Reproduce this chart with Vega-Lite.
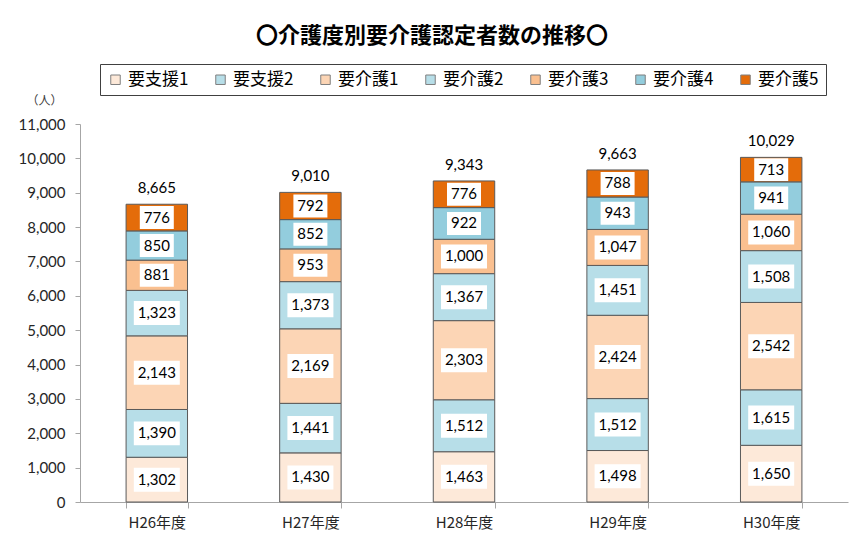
{
  "$schema": "https://vega.github.io/schema/vega-lite/v6.json",
  "width": 768,
  "height": 378,
  "autosize": "none",
  "padding": {"left": 80, "top": 124, "right": 6, "bottom": 38},
  "background": "white",
  "title": {
    "text": "〇介護度別要介護認定者数の推移〇",
    "font": "Noto Sans CJK JP",
    "fontSize": 22,
    "fontWeight": "bold",
    "color": "#000000",
    "anchor": "middle",
    "dx": -32,
    "offset": 16
  },
  "config": {
    "view": {"stroke": null},
    "font": "Lato",
    "axisY": {"labelOverlap": false}
  },
  "data": {
    "values": [
      {"year": "H26年度", "level": "要支援1", "value": 1302},
      {"year": "H26年度", "level": "要支援2", "value": 1390},
      {"year": "H26年度", "level": "要介護1", "value": 2143},
      {"year": "H26年度", "level": "要介護2", "value": 1323},
      {"year": "H26年度", "level": "要介護3", "value": 881},
      {"year": "H26年度", "level": "要介護4", "value": 850},
      {"year": "H26年度", "level": "要介護5", "value": 776},
      {"year": "H27年度", "level": "要支援1", "value": 1430},
      {"year": "H27年度", "level": "要支援2", "value": 1441},
      {"year": "H27年度", "level": "要介護1", "value": 2169},
      {"year": "H27年度", "level": "要介護2", "value": 1373},
      {"year": "H27年度", "level": "要介護3", "value": 953},
      {"year": "H27年度", "level": "要介護4", "value": 852},
      {"year": "H27年度", "level": "要介護5", "value": 792},
      {"year": "H28年度", "level": "要支援1", "value": 1463},
      {"year": "H28年度", "level": "要支援2", "value": 1512},
      {"year": "H28年度", "level": "要介護1", "value": 2303},
      {"year": "H28年度", "level": "要介護2", "value": 1367},
      {"year": "H28年度", "level": "要介護3", "value": 1000},
      {"year": "H28年度", "level": "要介護4", "value": 922},
      {"year": "H28年度", "level": "要介護5", "value": 776},
      {"year": "H29年度", "level": "要支援1", "value": 1498},
      {"year": "H29年度", "level": "要支援2", "value": 1512},
      {"year": "H29年度", "level": "要介護1", "value": 2424},
      {"year": "H29年度", "level": "要介護2", "value": 1451},
      {"year": "H29年度", "level": "要介護3", "value": 1047},
      {"year": "H29年度", "level": "要介護4", "value": 943},
      {"year": "H29年度", "level": "要介護5", "value": 788},
      {"year": "H30年度", "level": "要支援1", "value": 1650},
      {"year": "H30年度", "level": "要支援2", "value": 1615},
      {"year": "H30年度", "level": "要介護1", "value": 2542},
      {"year": "H30年度", "level": "要介護2", "value": 1508},
      {"year": "H30年度", "level": "要介護3", "value": 1060},
      {"year": "H30年度", "level": "要介護4", "value": 941},
      {"year": "H30年度", "level": "要介護5", "value": 713}
    ]
  },
  "transform": [
    {"calculate": "indexof(['要支援1','要支援2','要介護1','要介護2','要介護3','要介護4','要介護5'], datum.level)", "as": "k"},
    {"stack": "value", "groupby": ["year"], "sort": [{"field": "k", "order": "ascending"}], "as": ["ypos", "yend"]}
  ],
  "encoding": {
    "x": {
      "field": "year",
      "type": "nominal",
      "scale": {"paddingInner": 0.6, "paddingOuter": 0.3},
      "axis": {
        "title": null,
        "labelAngle": 0,
        "labelFont": "Noto Sans CJK JP",
        "labelFontSize": 15,
        "labelColor": "#262626",
        "labelPadding": 7,
        "domainColor": "#a6a6a6",
        "tickColor": "#a6a6a6",
        "tickBand": "extent",
        "tickSize": 6,
        "grid": false
      }
    },
    "y": {
      "field": "ypos",
      "type": "quantitative",
      "scale": {"domain": [0, 11000], "nice": false},
      "axis": {
        "title": "（人）",
        "titleAngle": 0,
        "titleX": -36,
        "titleY": -24,
        "titleAlign": "center",
        "titleBaseline": "middle",
        "titleFont": "Noto Sans CJK JP",
        "titleFontSize": 12,
        "titleFontWeight": "normal",
        "titleColor": "#404040",
        "values": [0, 1000, 2000, 3000, 4000, 5000, 6000, 7000, 8000, 9000, 10000, 11000],
        "format": ",d",
        "labelOverlap": false,
        "labelFontSize": 15,
        "labelColor": "#262626",
        "labelPadding": 10,
        "domainColor": "#a6a6a6",
        "tickColor": "#a6a6a6",
        "tickSize": 5,
        "grid": false
      }
    }
  },
  "layer": [
    {
      "mark": {"type": "bar", "stroke": "#5a5a5a", "strokeWidth": 1},
      "encoding": {
        "y2": {"field": "yend"},
        "color": {
          "field": "level",
          "type": "nominal",
          "scale": {
            "domain": ["要支援1", "要支援2", "要介護1", "要介護2", "要介護3", "要介護4", "要介護5"],
            "range": ["#FDE9D9", "#B7DEE8", "#FCD5B5", "#B7DEE8", "#FAC090", "#93CDDD", "#E46C0A"]
          },
          "legend": {
            "title": null,
            "orient": "none",
            "legendX": 20,
            "legendY": -60,
            "direction": "horizontal",
            "columns": 7,
            "columnPadding": 23,
            "symbolType": "square",
            "symbolSize": 90,
            "symbolStrokeColor": "#7f7f7f",
            "symbolStrokeWidth": 1,
            "symbolOffset": 0,
            "labelFont": "Noto Sans CJK JP",
            "labelFontSize": 17,
            "labelColor": "#000000",
            "labelOffset": 4,
            "strokeColor": "#404040",
            "padding": 7,
            "fillColor": "white"
          }
        }
      }
    },
    {
      "transform": [{"calculate": "(datum.ypos + datum.yend) / 2", "as": "ypos"}],
      "mark": {"type": "point", "filled": true, "fill": "white", "stroke": null, "opacity": 1},
      "encoding": {
        "shape": {
          "condition": {"test": "datum.value >= 1000", "value": "M-1,-0.5217H1V0.5217H-1Z"},
          "value": "M-1,-0.676H1V0.676H-1Z"
        },
        "size": {
          "condition": {"test": "datum.value >= 1000", "value": 2116},
          "value": 1156
        }
      }
    },
    {
      "transform": [{"calculate": "(datum.ypos + datum.yend) / 2", "as": "ypos"}],
      "mark": {"type": "text", "font": "Lato", "fontSize": 15, "color": "#000000", "baseline": "middle"},
      "encoding": {
        "text": {"field": "value", "type": "quantitative", "format": ",d"}
      }
    },
    {
      "transform": [{"aggregate": [{"op": "sum", "field": "value", "as": "ypos"}], "groupby": ["year"]}],
      "mark": {"type": "text", "font": "Lato", "fontSize": 15, "color": "#000000", "baseline": "middle", "dy": -16},
      "encoding": {
        "text": {"field": "ypos", "type": "quantitative", "format": ",d"}
      }
    }
  ]
}
